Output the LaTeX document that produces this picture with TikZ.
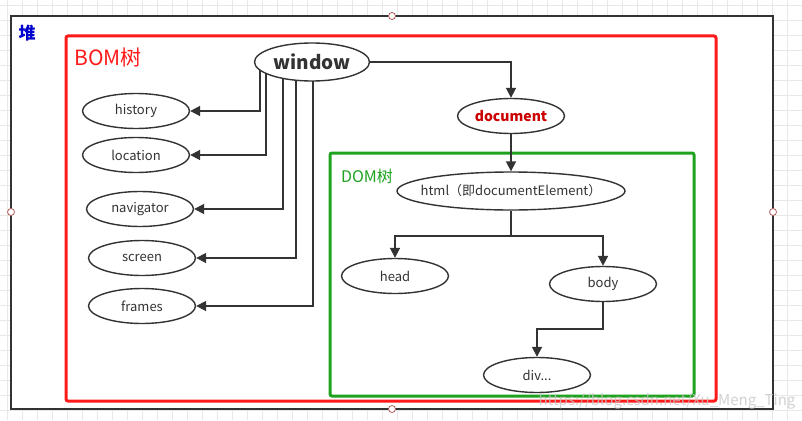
\documentclass[tikz,border=0pt]{standalone}
\usepackage{fontspec}
\setmainfont{Noto Sans CJK SC}
\usetikzlibrary{arrows.meta,shapes.geometric,backgrounds}
\definecolor{ink}{HTML}{333333}
\definecolor{bomred}{HTML}{FF1A1A}
\definecolor{domgreen}{HTML}{1FA31F}
\definecolor{heapblue}{HTML}{0000CC}
\definecolor{docred}{HTML}{CC0000}
\definecolor{gridgray}{HTML}{E8E8E8}
\definecolor{handle}{HTML}{B06060}
\pgfdeclarelayer{bg}
\pgfdeclarelayer{edges}
\pgfsetlayers{bg,edges,main}
\tikzset{
  oval/.style={ellipse, draw=ink, line width=1.4pt, fill=white, inner sep=0pt,
    minimum width=107pt, minimum height=35pt, text=ink, font=\fontsize{13}{13}\selectfont},
  link/.style={draw=ink, line width=1.8pt, -{Triangle[length=10pt,width=10pt]}},
  handlept/.style={circle, draw=handle, fill=white, line width=0.8pt, inner sep=0pt, minimum size=7pt},
}
\begin{document}
\begin{tikzpicture}[x=1pt,y=-1pt]
\useasboundingbox (0,0) rectangle (802,420);
\begin{pgfonlayer}{bg}
  % canvas grid
  \foreach \gx in {7,22,...,802} \draw[gridgray, line width=0.8pt] (\gx,0) -- (\gx,420);
  \foreach \gy in {5,20,...,420} \draw[gridgray, line width=0.8pt] (0,\gy) -- (802,\gy);
  % heap box
  \draw[ink, line width=2pt, fill=white] (11,16) rectangle (773,409);
  % BOM box
  \draw[bomred, line width=3pt, rounded corners=2pt] (66,36) rectangle (716,401);
  % DOM box
  \draw[domgreen, line width=3pt, rounded corners=2pt] (330,153) rectangle (694,396);
\end{pgfonlayer}

\node[text=heapblue, font=\fontsize{17}{17}\selectfont\bfseries] (heap) at (27,33) {堆};
\node[text=bomred, font=\fontsize{21}{21}\selectfont] (bom) at (108,58) {BOM树};
\node[text=domgreen, font=\fontsize{16}{16}\selectfont] (dom) at (367,176) {DOM树};

\node[oval, minimum width=115pt, minimum height=38pt, font=\fontsize{19}{19}\selectfont\bfseries] (window) at (312,62) {window};
\node[oval] (history) at (136,111) {history};
\node[oval] (location) at (136,155) {location};
\node[oval] (navigator) at (140,209) {navigator};
\node[oval] (screen) at (142,258) {screen};
\node[oval] (frames) at (142,306) {frames};

\node[oval, text=docred, font=\fontsize{14}{14}\selectfont\bfseries] (document) at (511,116) {document};
\node[oval, minimum width=228pt, minimum height=38pt, inner xsep=-30pt] (html) at (511,191) {html（即documentElement）};
\node[oval] (head) at (395,276) {head};
\node[oval] (body) at (603,284) {body};
\node[oval] (div) at (537,375) {div...};

\begin{pgfonlayer}{edges}
  \draw[link] ([xshift=-52pt]window.center) |- (history);
  \draw[link] ([xshift=-46pt]window.center) |- (location);
  \draw[link] ([xshift=-29pt]window.center) |- (navigator);
  \draw[link] ([xshift=-16pt]window.center) |- (screen);
  \draw[link] ([xshift=1pt]window.center) |- (frames);
  \draw[link] (window) -| (document);
  \draw[link] (document) -- (html);
  \draw[link] (html.south) -- ++(0,25) coordinate (split) -| (head);
  \draw[link] (split) -| (body);
  \draw[link] (body.south) -- ++(0,27) -| (div);
\end{pgfonlayer}

% selection handles
\node[handlept] (h1) at (392,16) {};
\node[handlept] (h2) at (11,212) {};
\node[handlept] (h3) at (773,212) {};
\node[handlept] (h4) at (392,409) {};

% watermark
\node[text=gray!45, opacity=0.8, font=\fontsize{15}{15}\selectfont] (wm) at (667,401) {https://blog.csdn.net/Xu\_Meng\_Ting};
\end{tikzpicture}
\end{document}
